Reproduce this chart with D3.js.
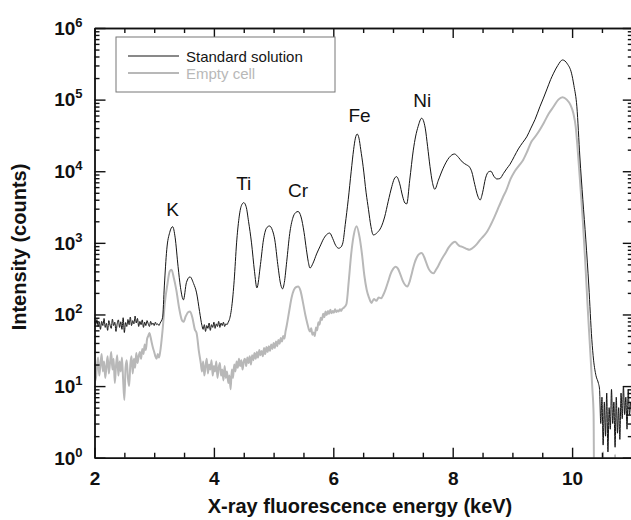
<!DOCTYPE html>
<html>
<head>
<meta charset="utf-8">
<script src="https://cdn.jsdelivr.net/npm/d3@7"></script>
<style>
	body { margin: 0; background: #fff; }
	svg { display: block; font-family: "Liberation Sans", Arial, Helvetica, sans-serif; }
	.axis path, .axis line { stroke: #111; stroke-width: 1.4; }
	.axis text { font-size: 19px; font-weight: bold; fill: #111; }
</style>
</head>
<body>
<svg id="chart" width="631" height="520"></svg>
<script>

// spectra: [energy keV, counts]
var stdSolution = [
	[2.00,90],[2.02,72],[2.04,85],[2.06,68],[2.08,78],[2.10,62],[2.12,80],[2.14,70],[2.16,88],[2.18,66],
	[2.20,75],[2.22,60],[2.24,82],[2.26,71],[2.28,64],[2.30,86],[2.32,70],[2.34,78],[2.36,58],[2.38,74],
	[2.40,84],[2.42,66],[2.44,79],[2.46,62],[2.48,90],[2.50,56],[2.52,77],[2.54,68],[2.56,85],[2.58,72],
	[2.60,92],[2.62,70],[2.64,82],[2.66,74],[2.68,95],[2.70,76],[2.72,88],[2.74,68],[2.76,80],[2.78,72],
	[2.80,84],[2.82,66],[2.84,78],[2.86,70],[2.88,82],[2.90,74],[2.92,68],[2.94,80],[2.96,72],[2.98,76],
	[3.00,70],[3.02,78],[3.04,72],[3.06,74],[3.08,70],[3.10,76],
	[3.14,90],[3.17,250],[3.21,800],[3.26,1400],[3.31,1680],[3.35,1200],[3.40,465],[3.44,240],[3.49,160],
	[3.54,280],[3.60,335],[3.66,270],[3.71,200],[3.76,110],[3.80,70],
	[3.82,62],[3.84,72],[3.86,58],[3.88,70],[3.90,64],[3.92,76],[3.94,60],[3.96,72],[3.98,66],[4.00,78],
	[4.02,64],[4.04,74],[4.06,68],[4.08,80],[4.10,66],[4.12,76],[4.14,70],[4.16,78],[4.18,68],[4.20,74],
	[4.22,72],[4.24,78],[4.26,85],
	[4.30,130],[4.34,300],[4.38,1000],[4.42,2200],[4.46,3300],[4.50,3640],[4.54,3200],[4.58,2000],[4.63,1000],
	[4.68,400],[4.72,235],[4.78,500],[4.83,1100],[4.88,1600],[4.93,1720],[4.98,1500],[5.02,1100],[5.07,500],
	[5.12,260],[5.15,228],[5.18,280],[5.22,550],[5.27,1350],[5.32,2200],[5.37,2650],[5.41,2740],[5.46,2300],
	[5.51,1400],[5.55,800],[5.58,550],[5.61,445],[5.66,520],[5.72,700],[5.78,900],[5.84,1150],[5.90,1330],
	[5.94,1370],[5.99,1150],[6.04,920],[6.09,840],[6.12,860],
	[6.16,1000],[6.20,1800],[6.25,4000],[6.30,10000],[6.34,20000],[6.37,29000],[6.40,33000],[6.43,29000],
	[6.46,20000],[6.50,11600],[6.55,5000],[6.59,2900],[6.63,1700],[6.67,1290],[6.74,1400],[6.80,1650],
	[6.86,2300],[6.92,3800],[6.98,6100],[7.02,7800],[7.06,8400],[7.11,6800],[7.16,4500],[7.20,3600],
	[7.23,3500],[7.28,7500],[7.34,19700],[7.38,31000],[7.42,42000],[7.48,55000],[7.54,40000],[7.58,22000],
	[7.62,11600],[7.66,7000],[7.70,5600],[7.76,7500],[7.84,11000],[7.94,15500],[8.03,17400],[8.10,15500],
	[8.16,13500],[8.23,12300],[8.28,11500],[8.32,9800],[8.37,6500],[8.42,4500],[8.46,3970],[8.50,5000],
	[8.55,8000],[8.60,9800],[8.64,10000],[8.69,8500],[8.74,7800],[8.79,7900],[8.85,9300],[8.91,11000],
	[8.96,12500],[9.03,16000],[9.10,20500],[9.17,25000],[9.24,30200],[9.31,40000],[9.38,53000],[9.46,79400],
	[9.52,105000],[9.58,141000],[9.64,190000],[9.69,234000],[9.76,300000],[9.84,358000],[9.92,316000],
	[9.99,234000],[10.03,158000],[10.08,79400],[10.13,15800],[10.18,4000],[10.23,1100],[10.28,250],
	[10.33,45],[10.36,23],[10.40,14],[10.44,11],
	[10.46,9],[10.48,3],[10.50,7],[10.52,1.5],[10.54,6],[10.56,2],[10.58,8],[10.60,1.2],[10.62,5],[10.64,2.5],
	[10.66,9],[10.68,3],[10.70,6],[10.72,1.4],[10.74,7],[10.76,2.2],[10.78,5],[10.80,1.8],[10.82,8],[10.84,3.5],
	[10.86,10],[10.88,4],[10.90,7],[10.92,2.5],[10.94,9],[10.96,4],[10.98,6],[11.00,3]
];

var emptyCell = [
	[2.00,21],[2.02,12],[2.04,18],[2.06,25],[2.08,14],[2.10,20],[2.12,28],[2.14,16],[2.16,22],[2.18,13],
	[2.20,19],[2.22,26],[2.24,15],[2.26,21],[2.28,30],[2.30,17],[2.32,24],[2.34,11],[2.36,19],[2.38,27],
	[2.40,14],[2.42,22],[2.44,16],[2.46,25],[2.48,12],[2.50,6.4],[2.52,18],[2.54,23],[2.56,13],[2.58,10],
	[2.60,20],[2.62,26],[2.64,15],[2.66,24],[2.68,18],[2.70,29],[2.72,21],[2.74,26],[2.76,30],[2.78,24],
	[2.80,33],[2.82,28],[2.84,38],[2.86,32],[2.88,45],[2.90,50],[2.92,55],[2.94,48],[2.96,40],[2.98,34],
	[3.00,30],[3.02,26],[3.04,24],[3.06,28],[3.08,25],[3.10,30],
	[3.14,60],[3.18,150],[3.22,260],[3.26,400],[3.29,420],[3.33,320],[3.37,220],[3.42,120],[3.46,85],
	[3.49,79],[3.53,95],[3.57,108],[3.60,110],[3.64,90],[3.68,62],[3.71,55],[3.75,30],
	[3.78,21],[3.80,16],[3.82,22],[3.84,14],[3.86,19],[3.88,24],[3.90,15],[3.92,20],[3.94,17],[3.96,23],
	[3.98,14],[4.00,19],[4.02,16],[4.04,22],[4.06,13],[4.08,18],[4.10,21],[4.12,14],[4.14,17],[4.16,12],
	[4.18,19],[4.20,13],[4.22,16],[4.24,11],[4.26,14],[4.28,9],[4.30,17],[4.32,13],[4.34,20],[4.36,16],
	[4.38,22],[4.40,18],[4.42,24],[4.44,19],[4.46,23],[4.48,17],[4.50,22],
	[4.52,24],[4.54,19],[4.56,25],[4.58,21],[4.60,26],[4.62,20],[4.64,27],[4.66,23],[4.68,29],[4.70,24],
	[4.72,30],[4.74,25],[4.76,32],[4.78,27],[4.80,31],[4.82,26],[4.84,34],[4.86,28],[4.88,35],[4.90,30],
	[4.92,36],[4.94,31],[4.96,38],[4.98,33],[5.00,40],[5.02,34],[5.04,42],[5.06,36],[5.08,44],[5.10,39],
	[5.12,47],[5.14,42],[5.16,50],[5.18,46],[5.20,58],[5.22,70],
	[5.26,110],[5.30,170],[5.34,220],[5.38,242],[5.41,245],[5.45,215],[5.49,150],[5.53,100],[5.57,72],
	[5.59,62],[5.61,58],[5.63,64],[5.65,52],[5.67,56],[5.69,50],[5.71,66],[5.73,60],[5.75,78],[5.77,72],
	[5.79,90],[5.81,84],[5.83,102],[5.85,92],[5.87,110],[5.89,98],[5.91,112],[5.93,102],[5.95,116],[5.97,104],
	[5.99,112],[6.01,106],[6.03,118],[6.05,108],[6.07,114],[6.09,110],[6.11,118],[6.13,112],[6.15,120],
	[6.18,125],[6.22,140],[6.26,300],[6.30,700],[6.34,1250],[6.39,1710],[6.44,1200],[6.48,700],[6.52,350],
	[6.56,220],[6.60,170],
	[6.64,145],[6.68,165],[6.72,155],[6.76,172],[6.80,168],[6.84,190],[6.88,230],[6.92,290],[6.96,370],
	[7.00,430],[7.04,465],[7.08,440],[7.12,370],[7.16,300],[7.20,260],[7.24,245],[7.28,290],[7.32,390],
	[7.36,520],[7.40,630],[7.44,700],[7.48,720],[7.52,640],[7.56,520],[7.60,430],[7.64,390],[7.68,375],
	[7.72,420],[7.76,480],[7.80,560],[7.84,640],[7.88,720],[7.92,830],[7.96,920],[8.00,1000],[8.04,1040],
	[8.08,960],[8.12,900],[8.16,880],[8.20,850],[8.24,820],[8.28,800],[8.32,830],[8.36,880],
	[8.40,950],[8.46,1100],[8.52,1250],[8.58,1450],[8.64,1800],[8.70,2300],[8.78,3300],[8.84,4300],
	[8.90,5500],[8.97,7800],[9.04,10000],[9.11,12000],[9.18,14400],[9.25,19000],[9.32,26000],[9.39,31000],
	[9.46,38000],[9.53,48000],[9.61,64000],[9.69,80000],[9.77,100000],[9.84,108000],[9.91,100000],
	[9.97,85000],[10.02,65000],[10.06,42000],[10.10,17000],[10.14,6000],[10.18,2000],[10.22,550],
	[10.26,130],[10.30,35],[10.34,9],[10.36,4],[10.37,0.3],[10.50,0.3],[10.52,1.2],[10.54,0.3],
	[10.70,0.3],[10.72,1.1],[10.74,0.3],[11.00,0.3]
];

var xMajorTicks = [2, 4, 6, 8, 10];
var xMinorTicks = [2.5, 3, 3.5, 4.5, 5, 5.5, 6.5, 7, 7.5, 8.5, 9, 9.5, 10.5, 11];
var yDecades = [1, 10, 100, 1000, 10000, 100000, 1000000];

var peakNames = ['K', 'Ti', 'Cr', 'Fe', 'Ni'];
var peakEnergies = [3.31, 4.50, 5.41, 6.44, 7.49];
var peakLabelCounts = [2400, 5500, 4400, 49000, 79000];

var seriesNames = ['Standard solution', 'Empty cell'];
var seriesColors = ['#151515', '#b8b8b8'];

var margin = { top: 28, left: 94.5 };
var width = 537.3;
var height = 429.7;

var svg = d3.select('#chart');
var g = svg.append('g')
	.attr('transform', 'translate(' + margin.left + ',' + margin.top + ')');

var x = d3.scaleLinear().domain([2, 11]).range([0, width]);
var y = d3.scaleLog().domain([1, 1e6]).range([height, 0]);

var yMinor = y.ticks().filter(function(v) { return yDecades.indexOf(v) < 0; });

// clip for spectra
g.append('clipPath').attr('id', 'plot-clip')
	.append('rect').attr('width', width).attr('height', height);

var line = d3.line()
	.x(function(d) { return x(d[0]); })
	.y(function(d) { return y(Math.max(d[1], 0.05)); })
	.curve(d3.curveMonotoneX);

var plot = g.append('g').attr('clip-path', 'url(#plot-clip)');

plot.append('path')
	.datum(emptyCell)
	.attr('fill', 'none')
	.attr('stroke', seriesColors[1])
	.attr('stroke-width', 2)
	.attr('stroke-linejoin', 'round')
	.attr('d', line);

plot.append('path')
	.datum(stdSolution)
	.attr('fill', 'none')
	.attr('stroke', seriesColors[0])
	.attr('stroke-width', 1)
	.attr('stroke-linejoin', 'round')
	.attr('d', line);

// axes, ticks all point inward
function addAxis(axis, transform) {
	var a = g.append('g').attr('class', 'axis');
	if (transform) a.attr('transform', transform);
	a.call(axis);
	return a;
}

addAxis(d3.axisBottom(x).tickValues(xMajorTicks).tickSizeInner(-10).tickSizeOuter(0).tickPadding(14)
	.tickFormat(d3.format('d')), 'translate(0,' + height + ')');
addAxis(d3.axisBottom(x).tickValues(xMinorTicks).tickSizeInner(-5).tickSizeOuter(0).tickFormat(''),
	'translate(0,' + height + ')');
addAxis(d3.axisTop(x).tickValues(xMajorTicks).tickSizeInner(-10).tickSizeOuter(0).tickFormat(''));
addAxis(d3.axisTop(x).tickValues(xMinorTicks).tickSizeInner(-5).tickSizeOuter(0).tickFormat(''));

addAxis(d3.axisLeft(y).tickValues(yDecades).tickSizeInner(-11).tickSizeOuter(0).tickFormat(''));
addAxis(d3.axisLeft(y).tickValues(yMinor).tickSizeInner(-5).tickSizeOuter(0).tickFormat(''));
addAxis(d3.axisRight(y).tickValues(yDecades).tickSizeInner(-9).tickSizeOuter(0).tickFormat(''),
	'translate(' + width + ',0)');
addAxis(d3.axisRight(y).tickValues(yMinor).tickSizeInner(-4).tickSizeOuter(0).tickFormat(''),
	'translate(' + width + ',0)');

// power-of-ten labels
var yLabels = g.selectAll('.y-label')
	.data(yDecades)
	.enter().append('text')
	.attr('class', 'y-label')
	.attr('x', -12)
	.attr('y', function(d) { return y(d); })
	.attr('dy', '0.36em')
	.style('text-anchor', 'end')
	.style('font-size', '19px')
	.style('font-weight', 'bold')
	.style('fill', '#111');

yLabels.append('tspan').text('10');
yLabels.append('tspan')
	.attr('dy', '-8')
	.style('font-size', '13px')
	.text(function(d) { return Math.round(Math.log10(d)); });

// axis titles
svg.append('text')
	.attr('x', 360)
	.attr('y', 513)
	.style('text-anchor', 'middle')
	.style('font-size', '20px')
	.style('font-weight', 'bold')
	.style('fill', '#111')
	.text('X-ray fluorescence energy (keV)');

svg.append('text')
	.attr('transform', 'translate(26,247) rotate(-90)')
	.style('text-anchor', 'middle')
	.style('font-size', '20px')
	.style('font-weight', 'bold')
	.style('fill', '#111')
	.text('Intensity (counts)');

// element labels over peaks
g.selectAll('.peak-label')
	.data(peakNames)
	.enter().append('text')
	.attr('class', 'peak-label')
	.attr('x', function(d, i) { return x(peakEnergies[i]); })
	.attr('y', function(d, i) { return y(peakLabelCounts[i]); })
	.style('text-anchor', 'middle')
	.style('font-size', '19px')
	.style('fill', '#111')
	.text(function(d) { return d; });

// legend
var legend = svg.append('g').attr('transform', 'translate(116,37)');

legend.append('rect')
	.attr('width', 219)
	.attr('height', 55)
	.attr('fill', '#fff')
	.attr('stroke', '#777')
	.attr('stroke-width', 1);

var item = legend.selectAll('.legend-item')
	.data(seriesNames)
	.enter().append('g')
	.attr('class', 'legend-item')
	.attr('transform', function(d, i) { return 'translate(0,' + (19 + i * 17) + ')'; });

item.append('line')
	.attr('x1', 12)
	.attr('x2', 63)
	.attr('stroke', function(d, i) { return seriesColors[i]; })
	.attr('stroke-width', function(d, i) { return i ? 2 : 1.2; });

item.append('text')
	.attr('x', 70)
	.attr('y', 5.5)
	.style('font-size', '15px')
	.style('fill', function(d, i) { return seriesColors[i]; })
	.text(function(d) { return d; });

</script>
</body>
</html>
